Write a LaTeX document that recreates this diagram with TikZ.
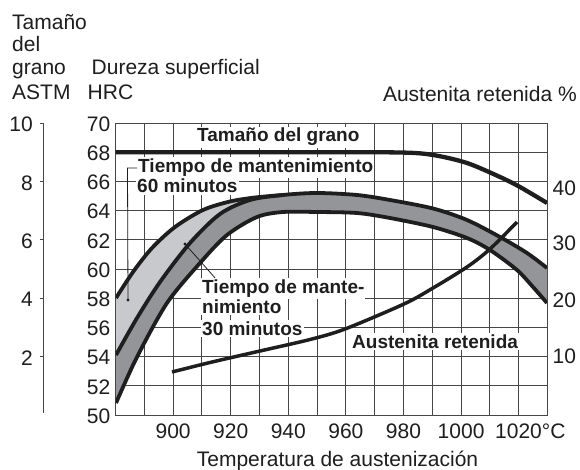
\documentclass[tikz,border=0pt]{standalone}
\usepackage{fontspec}
\setmainfont{Liberation Sans}
\definecolor{ink}{RGB}{30,30,30}
\definecolor{gridc}{RGB}{70,70,70}
\definecolor{lightband}{RGB}{200,201,204}
\definecolor{darkband}{RGB}{148,149,153}
\begin{document}
\begin{tikzpicture}[x=1pt,y=-1pt,
  reg/.style={font=\fontsize{21}{23}\selectfont, text=ink, inner sep=0pt},
  lab/.style={font=\fontsize{19}{21}\selectfont\bfseries, text=ink, fill=white, inner xsep=1pt, inner ysep=1.5pt},
  gridline/.style={draw=gridc, line width=0.9pt},
  curve/.style={draw=ink, line width=3.8pt},
  leader/.style={draw=ink, line width=0.8pt}]
\useasboundingbox[fill=white] (0,0) rectangle (580,470);

% grid
\foreach \t in {890,900,...,1020} {
  \draw[gridline] ({115.5+(\t-880)*2.88},123) -- ({115.5+(\t-880)*2.88},415);
}
\foreach \h in {52,54,...,68} {
  \draw[gridline] (115.5,{415-(\h-50)*14.6}) -- (547,{415-(\h-50)*14.6});
}
\draw[gridline] (115.5,123) rectangle (547,415);

% ASTM axis
\draw[gridline] (43,123) -- (43,413);
\foreach \a/\y in {10/123,8/181.4,6/239.8,4/298.2,2/356.6} {
  \draw[gridline] (39.5,\y) -- (43,\y);
  \node[reg, anchor=east] (astm\a) at (33,\y+1.5) {\a};
}

% HRC labels
\foreach \h in {50,52,...,70} {
  \node[reg, anchor=east] (hrc\h) at (110.5,{415-(\h-50)*14.6+1}) {\h};
}

% Retained austenite labels
\foreach \p/\y in {40/188,30/243,20/300,10/356.5} {
  \node[reg, anchor=west] (aus\p) at (552.5,\y) {\p};
}

% temperature labels
\foreach \t in {900,920,940,960,980,1000} {
  \node[reg, anchor=base] (temp\t) at ({115.5+(\t-880)*2.88},438) {\t};
}
\node[reg, anchor=base west] (temp1020) at (495,438) {1020°C};

% axis titles
\node[reg, anchor=base west] (t1) at (12,29.5) {Tamaño};
\node[reg, anchor=base west] (t2) at (12,51.7) {del};
\node[reg, anchor=base west] (t3) at (12,74.5) {grano};
\node[reg, anchor=base west] (t4) at (12,100) {ASTM};
\node[reg, anchor=base west] (d1) at (91.5,74.5) {Dureza superficial};
\node[reg, anchor=base west] (d2) at (87.5,100) {HRC};
\node[reg, anchor=base east] (ar) at (577,101.5) {Austenita retenida \%};
\node[reg, anchor=base] (xt) at (337.5,466) {Temperatura de austenización};

% bands and curves
\begin{scope}
\clip (115.5,123) rectangle (547,415);
\fill[lightband] plot[smooth] coordinates {(116,298) (133,272) (152,248) (175,227) (203,210) (230,201.5) (255,197.5) (283,195)}
  -- plot[smooth] coordinates {(283,195) (250,200) (220,214) (190,243) (160,282) (137,318) (116,355)} -- cycle;
\fill[darkband] plot[smooth] coordinates {(116,355) (137,318) (160,282) (190,243) (220,214) (250,200) (283,195) (317,193) (357,195) (390,200) (433,208.5) (467,220) (500,237) (527,253) (547,268)}
  -- plot[smooth] coordinates {(547,303) (533,287) (517,270) (490,250) (467,238) (433,227) (390,218) (357,213) (317,212) (283,212) (257,217) (227,235) (200,263) (167,303) (137,357) (116,403)} -- cycle;
\draw[curve] plot[smooth] coordinates {(116,298) (133,272) (152,248) (175,227) (203,210) (230,201.5) (255,197.5) (283,195)};
\draw[curve] plot[smooth] coordinates {(116,355) (137,318) (160,282) (190,243) (220,214) (250,200) (283,195) (317,193) (357,195) (390,200) (433,208.5) (467,220) (500,237) (527,253) (547,268)};
\draw[curve] plot[smooth] coordinates {(116,403) (137,357) (167,303) (200,263) (227,235) (257,217) (283,212) (317,212) (357,213) (390,218) (433,227) (467,238) (490,250) (517,270) (533,287) (547,303)};
% grain size
\draw[curve, line width=4.3pt] plot[smooth] coordinates {(115.5,152.2) (300,152.2) (400,152.5) (433,155) (467,163) (500,177) (520,187) (547,203)};
\end{scope}

% retained austenite curve
\draw[curve, line width=3.5pt] plot[smooth] coordinates {(172,372) (210,362.5) (260,351) (310,339.5) (345,329) (404,304) (433,288) (467,267) (490,249) (517,222)};

% labels
\node[lab, anchor=base west] (lg) at (196,142) {Tamaño del grano};
\node[lab, anchor=base west] (l60a) at (137,172.5) {Tiempo de mantenimiento};
\node[lab, anchor=base west] (l60b) at (136,193) {60 minutos};
\node[lab, anchor=base west] (l30a) at (201,293.3) {Tiempo de mante-};
\node[lab, anchor=base west] (l30b) at (201,313.3) {nimiento};
\node[lab, anchor=base west] (l30c) at (201,335) {30 minutos};
\node[lab, anchor=base west] (lau) at (351,348) {Austenita retenida};

% leaders
\coordinate (dot60) at (128,300);
\coordinate (knee60) at (127.5,168);
\coordinate (dot30) at (185,244);
\draw[leader] (l60a.west |- knee60) -- (knee60) -- (dot60);
\fill[ink] (dot60) circle (1.6pt);
\draw[leader] (dot30) -- (l30a.north west -| 215,0);
\fill[ink] (dot30) circle (1.6pt);
\end{tikzpicture}
\end{document}
